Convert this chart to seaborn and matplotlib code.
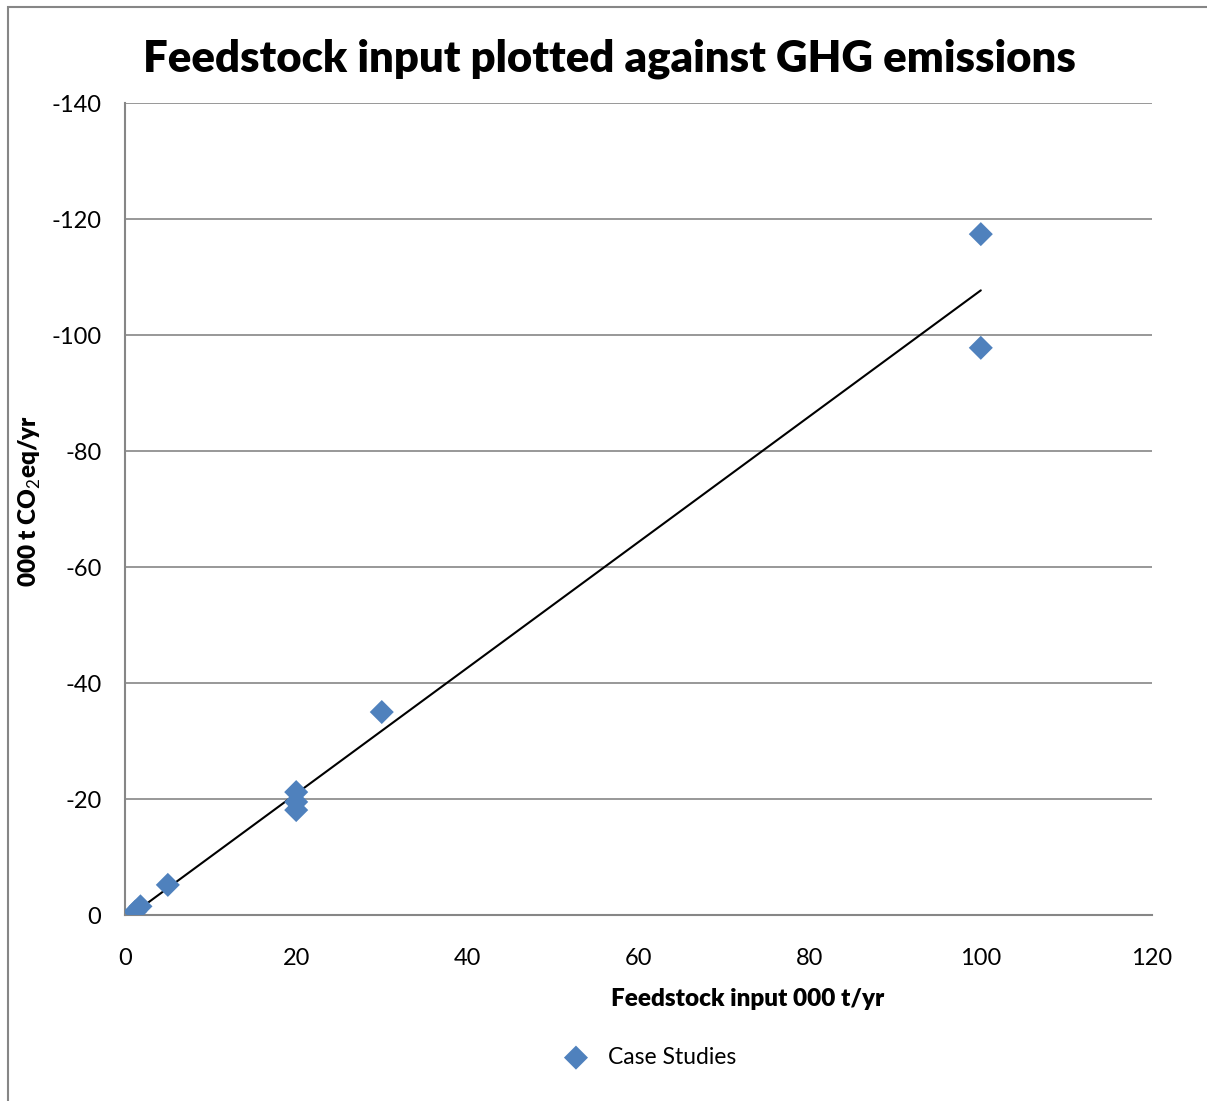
import matplotlib
matplotlib.use("Agg")
import matplotlib.pyplot as plt
import seaborn as sns
import numpy as np
import pandas as pd
from matplotlib.patches import Rectangle

# Data
feedstock = [1.2, 1.8, 5, 20, 20, 20, 30, 100, 100]
emissions = [-0.6, -1.5, -5.2, -21.2, -19.5, -18.1, -35.0, -117.4, -97.8]
series_label = "Case Studies"
title = "Feedstock input plotted against GHG emissions"
xlabel = "Feedstock input 000 t/yr"
ylabel = "000 t CO$_2$eq/yr"
xticks = [0, 20, 40, 60, 80, 100, 120]
yticks = [0, -20, -40, -60, -80, -100, -120, -140]

df = pd.DataFrame({"x": feedstock, "y": emissions})

sns.set_theme(style="white")
plt.rcParams['font.family'] = ['Lato', 'DejaVu Sans']
plt.rcParams['axes.unicode_minus'] = False
plt.rcParams['text.color'] = 'black'
plt.rcParams['axes.labelcolor'] = 'black'
plt.rcParams['mathtext.fontset'] = 'custom'
plt.rcParams['mathtext.rm'] = 'Lato'
plt.rcParams['mathtext.bf'] = 'Lato:bold'

fig = plt.figure(figsize=(12.07, 11.01), dpi=100)
ax = fig.add_axes([0.1036, 0.1689, 0.8508, 0.7375])

# outer chart border (left and top visible)
fig.add_artist(Rectangle((8/1207, -0.01), 1.2, 1 - 7/1101 + 0.01, transform=fig.transFigure,
                         fill=False, edgecolor="#868686", linewidth=1.5))

sns.regplot(data=df, x="x", y="y", scatter=False, ci=None, ax=ax,
            line_kws={"color": "black", "linewidth": 1.5})
sns.scatterplot(data=df, x="x", y="y", marker="D", s=150, color="#4F81BD",
                edgecolor="none", ax=ax, label=series_label, zorder=5)

ax.set_xlim(0, 120)
ax.set_ylim(0, -140)
ax.set_xticks(xticks)
ax.set_yticks(yticks)
ax.set_xticklabels([str(v) for v in xticks])
ax.set_yticklabels([str(v) for v in yticks])
ax.tick_params(axis="both", labelsize=17, colors="black", length=0)
ax.tick_params(axis="x", pad=24)
ax.tick_params(axis="y", pad=17)
ax.yaxis.grid(True, color="#868686", linewidth=1.2)
ax.xaxis.grid(False)
for side in ["top", "right"]:
    ax.spines[side].set_visible(False)
for side in ["left", "bottom"]:
    ax.spines[side].set_color("#868686")
    ax.spines[side].set_linewidth(1.5)

ax.set_xlabel(xlabel, fontsize=17.5, fontweight="heavy", color="black")
ax.set_ylabel(ylabel, fontsize=17.5, fontweight="heavy", color="black")
ax.xaxis.set_label_coords(0.606, -0.09)
ax.yaxis.set_label_coords(-0.08, 0.51)

fig.text(0.505, 0.947, title, ha="center", va="center", fontsize=31.4,
         fontweight="heavy", color="black")

leg = ax.legend(loc="center", bbox_to_anchor=(0.506, -0.175), frameon=False, fontsize=16.5,
                handletextpad=0.4)
for t in leg.get_texts():
    t.set_color("black")

fig.savefig("out.png", dpi=100)
